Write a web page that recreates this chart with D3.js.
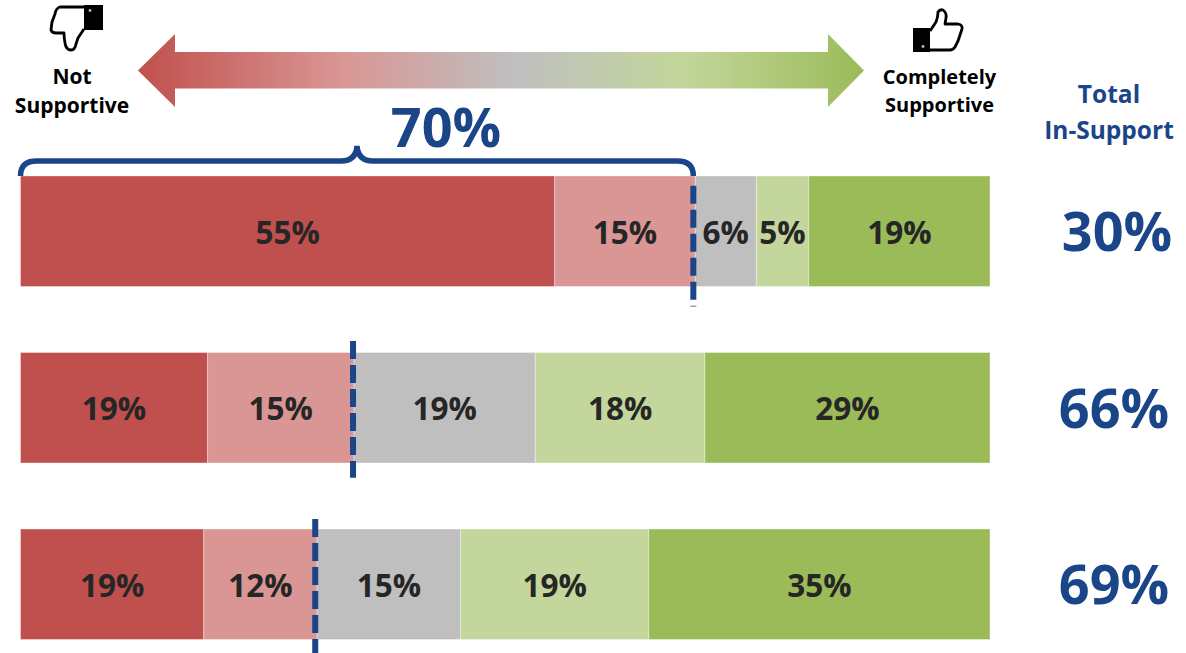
<!DOCTYPE html>
<html><head><meta charset="utf-8">
<script src="https://cdn.jsdelivr.net/npm/d3@7"></script>
<style>html,body{margin:0;padding:0;background:#fff}svg{display:block}text{font-family:"Open Sans",sans-serif;font-weight:700}</style>
</head><body><div id="c"></div>
<script>
const rows = ["Q1","Q2","Q3"];
const categories = ["Not Supportive","Somewhat Not Supportive","Neutral","Somewhat Supportive","Completely Supportive"];
const colors = ["#C0504D","#D99694","#BFBFBF","#C3D69B","#9BBB59"];
const notSupportive = [55.1,19.3,18.9];
const somewhatNot = [14.5,15.1,11.7];
const neutral = [6.3,18.7,14.8];
const somewhat = [5.4,17.5,19.4];
const completely = [18.7,29.4,35.2];
const totalInSupport = ["30%","66%","69%"];
const dividers = [69.4,34.3,30.4];
const bracketValue = "70%";

const W=1186,H=653,BLUE="#1B4589";
const svg=d3.select("#c").append("svg").attr("width",W).attr("height",H);
const x=d3.scaleLinear().domain([0,100]).range([20.5,990]);
const y=d3.scaleBand().domain(rows).range([176,639.5]).paddingInner(.374).paddingOuter(0);
const series=[notSupportive,somewhatNot,neutral,somewhat,completely];

// gradient arrow
const grad=svg.append("defs").append("linearGradient").attr("id","g");
[[0,0],[.28,1],[.52,2],[.75,3],[1,4]].forEach(([o,i])=>grad.append("stop").attr("offset",o).attr("stop-color",colors[i]));
svg.append("path").attr("fill","url(#g)")
 .attr("d","M138,70.5L175,34V52H828V34L864,70.5L828,107V88.5H175V107Z");

// icons
svg.append("path").attr("d","M84,7L60,7Q56,8 55,14L52,22L51,30Q52,33 56,33L64,33Q64,38 65,43Q66,50 71,50Q75,50 76,44L78,38L84,29")
 .attr("fill","#fff").attr("stroke","#000").attr("stroke-width",2.8).attr("stroke-linejoin","round");
svg.append("rect").attr("x",84).attr("y",5).attr("width",19).attr("height",25).attr("fill","#000");
svg.append("circle").attr("cx",90).attr("cy",10.5).attr("r",1.4).attr("fill","#bbb");
svg.append("path").attr("d","M930,31L936,22Q938,17 938,12Q940,9 943,10Q947,13 946,18L945,24L958,24Q963,25 962,29L960,35L958,41L955,47Q953,50 950,50L930,50")
 .attr("fill","#fff").attr("stroke","#000").attr("stroke-width",2.8).attr("stroke-linejoin","round");
svg.append("rect").attr("x",913).attr("y",28).attr("width",17).attr("height",24).attr("fill","#000");
svg.append("circle").attr("cx",923).attr("cy",46.5).attr("r",1.4).attr("fill","#bbb");

// header labels
const txt=(t,cx,cy,size,fill)=>svg.append("text").text(t).attr("x",cx).attr("y",cy).attr("text-anchor","middle")
  .attr("dominant-baseline","central").attr("font-size",size).attr("fill",fill);
txt("Not",72,76,21,"#000");
txt("Supportive",72,105,21,"#000");
txt("Completely",939.5,76.5,20,"#000");
txt("Supportive",939.5,104.5,20,"#000");
txt("Total",1109,93,24.5,BLUE);
txt("In-Support",1109,129,24.5,BLUE);
txt(bracketValue,446,126,54,BLUE);

// bars
rows.forEach((r,ri)=>{
  let acc=0;
  series.forEach((s,si)=>{
    const v=s[ri],x0=x(acc),x1=x(acc+v);acc+=v;
    svg.append("rect").attr("x",x0).attr("y",y(r)).attr("width",x1-x0).attr("height",y.bandwidth())
      .attr("fill",colors[si]).attr("stroke","#fff").attr("stroke-opacity",.35).attr("stroke-width",1);
    txt(d3.format(".0f")(v)+"%",(x0+x1)/2,y(r)+y.bandwidth()/2,31.5,"#262626");
  });
});

// brace
const bx0=x(0),bx1=x(dividers[0]),mid=357,by=161;
svg.append("path").attr("fill","none").attr("stroke",BLUE).attr("stroke-width",5.5)
 .attr("d",`M${bx0},176Q${bx0},${by} ${bx0+16},${by}L${mid-16},${by}Q${mid-1},${by} ${mid},146Q${mid+1},${by} ${mid+16},${by}L${bx1-16},${by}Q${bx1},${by} ${bx1},176`);

// dashed dividers
const dashExtent=[[185.7,306.5],[341,477.7],[519,653]];
rows.forEach((r,i)=>{
  svg.append("line").attr("x1",x(dividers[i])).attr("x2",x(dividers[i]))
   .attr("y1",dashExtent[i][0]).attr("y2",dashExtent[i][1])
   .attr("stroke",BLUE).attr("stroke-width",6).attr("stroke-dasharray","18 6");
});

// totals
const totalX=[1117,1114,1114];
rows.forEach((r,i)=>txt(totalInSupport[i],totalX[i],y(r)+y.bandwidth()/2-1,54,BLUE));
</script></body></html>
